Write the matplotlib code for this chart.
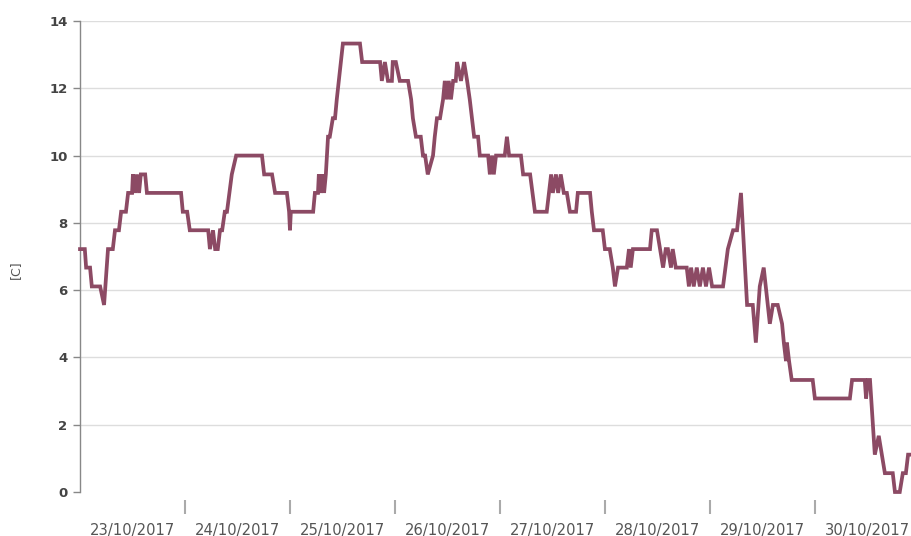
import matplotlib
matplotlib.use("Agg")
import matplotlib.pyplot as plt
import pandas as pd

# hours since 23/10/2017 00:00
hours = [0.0, 1.1, 1.4, 2.3, 2.7, 4.6, 5.5, 6.4, 7.5, 8.0, 8.9, 9.4, 10.5, 11.0, 11.9,
         12.1, 12.6, 13.0, 13.5, 13.9, 14.9, 15.3, 23.1, 23.5, 24.5, 25.1, 29.3, 29.7,
         30.4, 30.9, 31.5, 32.0, 32.5, 33.1, 33.6, 34.7, 35.7, 41.6, 42.1, 43.9, 44.6,
         47.3, 47.8, 48.0, 48.2, 53.3, 53.7, 54.4, 54.6, 55.1, 55.5, 55.8, 56.2, 56.7,
         57.1, 57.8, 58.3, 58.7, 60.1, 64.0, 64.5, 68.6, 69.0, 69.7, 70.4, 71.3, 71.5,
         72.2, 73.1, 75.0, 75.7, 76.1, 76.8, 77.9, 78.4, 78.9, 79.5, 80.7, 81.1, 81.6,
         82.3, 83.0, 83.4, 83.9, 84.3, 84.8, 85.3, 85.9, 86.2, 87.1, 87.8, 88.5, 89.1,
         89.6, 90.1, 91.0, 91.4, 93.3, 93.7, 94.2, 94.6, 95.1, 97.1, 97.6, 98.1, 100.8,
         101.3, 102.9, 104.0, 106.7, 107.2, 107.7, 108.1, 108.8, 109.3, 109.9, 110.6,
         111.3, 112.0, 113.4, 113.8, 116.6, 117.0, 117.5, 119.5, 120.0, 121.1, 121.8,
         122.3, 123.0, 125.0, 125.5, 125.9, 126.4, 130.3, 130.7, 131.9, 132.6, 133.3,
         133.9, 134.4, 135.1, 135.5, 136.2, 138.7, 139.2, 139.7, 140.3, 141.0, 141.7,
         142.4, 143.1, 143.8, 144.5, 147.0, 148.1, 149.3, 150.2, 151.1, 152.5, 153.8,
         154.5, 155.4, 156.3, 157.7, 158.4, 159.5, 160.5, 160.9, 161.4, 161.6, 162.1,
         162.7, 167.5, 168.0, 176.0, 176.5, 179.4, 179.7, 180.1, 180.6, 181.7, 182.6,
         183.3, 184.0, 185.8, 186.3, 187.4, 188.1, 188.8, 189.3, 190.2]

temps = [7.22, 7.22, 6.67, 6.67, 6.11, 6.11, 5.56, 7.22, 7.22, 7.78, 7.78, 8.33, 8.33, 8.89, 8.89,
         9.44, 8.89, 9.44, 8.89, 9.44, 9.44, 8.89, 8.89, 8.33, 8.33, 7.78, 7.78, 7.22,
         7.78, 7.22, 7.22, 7.78, 7.78, 8.33, 8.33, 9.44, 10.0, 10.0, 9.44, 9.44, 8.89,
         8.89, 8.33, 7.78, 8.33, 8.33, 8.89, 8.89, 9.44, 8.89, 9.44, 8.89, 9.44, 10.56,
         10.56, 11.11, 11.11, 11.67, 13.33, 13.33, 12.78, 12.78, 12.22, 12.78, 12.22, 12.22, 12.78,
         12.78, 12.22, 12.22, 11.67, 11.11, 10.56, 10.56, 10.0, 10.0, 9.44, 10.0, 10.56, 11.11,
         11.11, 11.67, 12.22, 11.67, 12.22, 11.67, 12.22, 12.22, 12.78, 12.22, 12.78, 12.22, 11.67,
         11.11, 10.56, 10.56, 10.0, 10.0, 9.44, 10.0, 9.44, 10.0, 10.0, 10.56, 10.0, 10.0,
         9.44, 9.44, 8.33, 8.33, 8.89, 9.44, 8.89, 9.44, 8.89, 9.44, 8.89,
         8.89, 8.33, 8.33, 8.89, 8.89, 8.33, 7.78, 7.78, 7.22, 7.22, 6.67,
         6.11, 6.67, 6.67, 7.22, 6.67, 7.22, 7.22, 7.78, 7.78, 7.22, 6.67,
         7.22, 7.22, 6.67, 7.22, 6.67, 6.67, 6.11, 6.67, 6.11, 6.67, 6.11,
         6.67, 6.11, 6.67, 6.11, 6.11, 7.22, 7.78, 7.78, 8.89, 5.56, 5.56,
         4.44, 6.11, 6.67, 5.0, 5.56, 5.56, 5.0, 4.44, 3.89, 4.44, 3.89,
         3.33, 3.33, 2.78, 2.78, 3.33, 3.33, 2.78, 3.33, 3.33, 1.11, 1.67,
         1.11, 0.56, 0.56, 0.0, 0.0, 0.56, 0.56, 1.11, 1.11]

day_labels = ["23/10/2017", "24/10/2017", "25/10/2017", "26/10/2017",
              "27/10/2017", "28/10/2017", "29/10/2017", "30/10/2017"]
y_ticks = [0, 2, 4, 6, 8, 10, 12, 14]

start = pd.Timestamp("2017-10-23")
times = start + pd.to_timedelta(hours, unit="h")

fig = plt.figure(figsize=(9.12, 5.36), dpi=100)
ax = fig.add_axes([80 / 912, 1 - 492 / 536, 1 - 80 / 912, (492 - 21) / 536])

ax.plot(times, temps, color="#8c4a64", lw=2.7, solid_joinstyle="miter", clip_on=False, zorder=3)

ax.set_ylim(0, 14)
ax.set_xlim(start, start + pd.Timedelta(hours=190.2))
ax.set_yticks(y_ticks)
ax.set_yticklabels([str(t) for t in y_ticks], fontsize=9.5, fontweight="bold", color="#444444")
for t in y_ticks[1:]:
    ax.axhline(t, color="#dddddd", lw=1.0, zorder=1)

for s in ["top", "right", "bottom"]:
    ax.spines[s].set_visible(False)
ax.spines["left"].set_color("#888888")
ax.spines["left"].set_linewidth(1.0)
ax.spines["bottom"].set_position(("outward", 6))

major = [start + pd.Timedelta(days=d) for d in range(1, 8)]
minor = [start + pd.Timedelta(days=d, hours=12) for d in range(8)]
ax.set_xticks(major)
ax.set_xticklabels([""] * len(major))
ax.set_xticks(minor, minor=True)
ax.set_xticklabels(day_labels, minor=True, fontsize=10.6, color="#555555")
ax.tick_params(axis="x", which="major", length=10, width=1.5, color="#aaaaaa")
ax.tick_params(axis="x", which="minor", length=0, pad=16)
ax.tick_params(axis="y", length=5, width=1, color="#888888", pad=4)

fig.text(15 / 912, 1 - 270 / 536, "[C]", rotation=90, fontsize=9, color="#555555",
         ha="center", va="center")

fig.savefig("out.png", dpi=100)
